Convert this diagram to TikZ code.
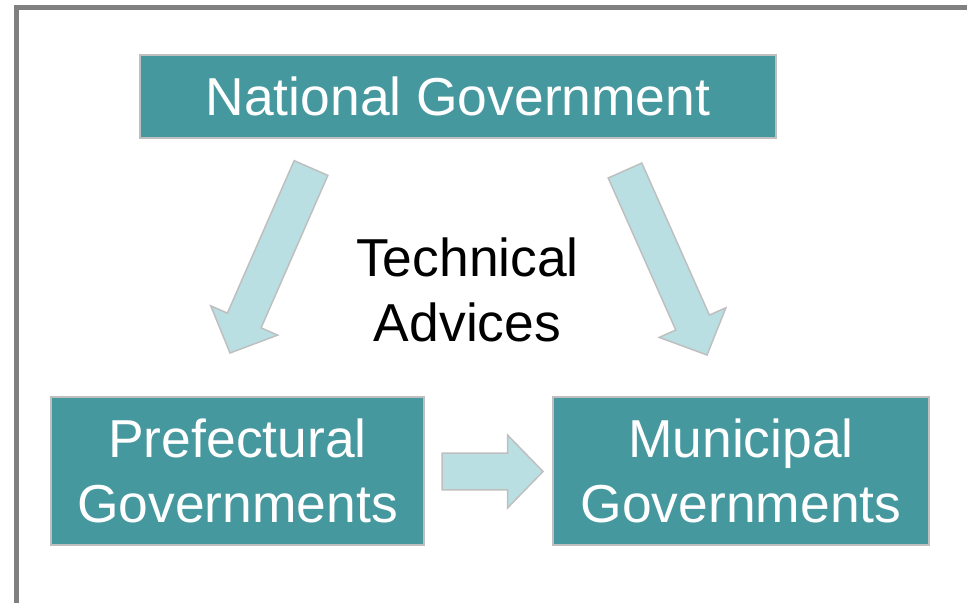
\documentclass[tikz,border=0pt]{standalone}
\usepackage{xcolor}
\usepackage{fontspec}
\setmainfont{Liberation Sans}
\usepackage{tikz}
\usetikzlibrary{calc}
\definecolor{govteal}{RGB}{70,152,159}
\definecolor{advblue}{RGB}{185,223,227}
\definecolor{edgegray}{RGB}{191,191,191}
\definecolor{framegray}{RGB}{128,128,128}
% block arrow from #1 (tail) to #2 (tip)
\newcommand{\blockarrow}[2]{%
  \coordinate (neck) at ($(#2)!0.71cm!(#1)$);
  \draw[advarrow] ($(#1)!0.368cm!90:(#2)$) -- ($(neck)!0.368cm!90:(#2)$)
    -- ($(neck)!0.73cm!90:(#2)$) -- (#2) -- ($(neck)!0.73cm!-90:(#2)$)
    -- ($(neck)!0.368cm!-90:(#2)$) -- ($(#1)!0.368cm!-90:(#2)$) -- cycle;
}
\begin{document}
\begin{tikzpicture}[x=0.02cm, y=-0.02cm,
  gov/.style={draw=edgegray, line width=0.85pt, fill=govteal, text=white, align=center, font=\fontsize{30.4}{37}\selectfont},
  advarrow/.style={draw=edgegray, line width=0.85pt, fill=advblue, line join=miter}]
\useasboundingbox (0,0) rectangle (967,603);
% frame
\draw[framegray, line width=0.1cm] (16.8,603) -- (16.8,7.5) -- (967,7.5);

% government boxes
\node[gov, minimum width=12.72cm, minimum height=1.66cm] (national) at (458,96.5) {National Government};
\node[gov, minimum width=7.46cm, minimum height=2.96cm] (prefectural) at (237.5,471) {Prefectural\\Governments};
\node[gov, minimum width=7.52cm, minimum height=2.96cm] (municipal) at (741,471) {Municipal\\Governments};

% advice arrows
\coordinate (natl-l) at (311,168);
\coordinate (pref-in) at (230,353);
\coordinate (natl-r) at (625,170.5);
\coordinate (muni-in) at (707,355);
\coordinate (pref-out) at (442,471.5);
\coordinate (muni-l) at (543,471.5);
\foreach \from/\to in {natl-l/pref-in, natl-r/muni-in, pref-out/muni-l}
  {\blockarrow{\from}{\to}}

\node[font=\fontsize{30.4}{37}\selectfont, align=center] (advice) at (467.5,290) {Technical\\Advices};
\end{tikzpicture}
\end{document}
